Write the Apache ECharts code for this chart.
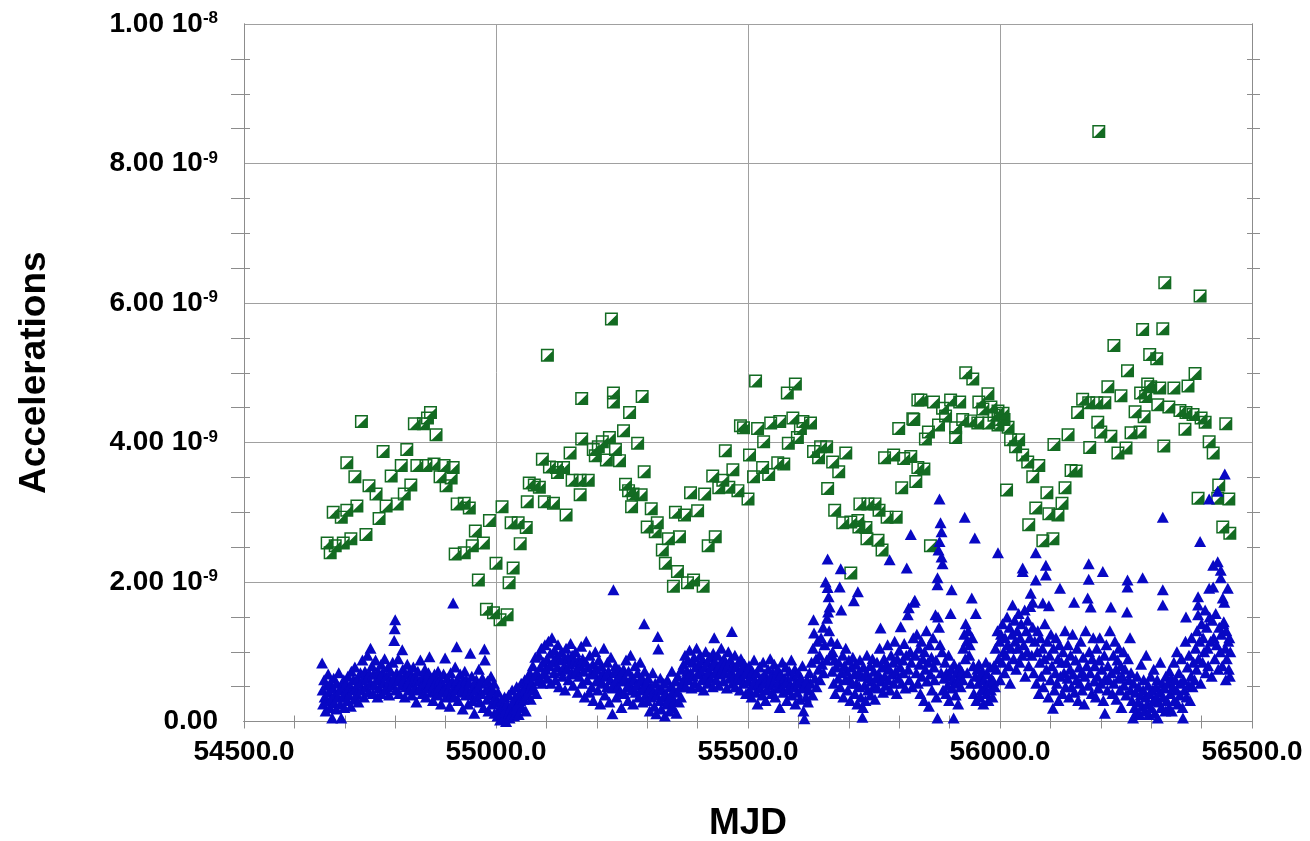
<!DOCTYPE html>
<html>
<head>
<meta charset="utf-8">
<title>Accelerations vs MJD</title>
<script src="https://cdn.jsdelivr.net/npm/echarts@6/dist/echarts.min.js"></script>
<style>
  html, body { margin: 0; padding: 0; background: #fff; }
  #chart { width: 1310px; height: 841px; }
</style>
</head>
<body>
<div id="chart"></div>
<script>
// Axis ranges and tick spacing
const xRange = [54500, 56500];
const xStep = 500;
const yRange = [0, 10];      // in units of 1e-9
const yStep = 2;
const axisTitles = { x: 'MJD', y: 'Accelerations' };

// Square-marker series: [MJD, acceleration in 1e-9]
const squarePts = [
[54665,2.56],[54671,2.42],[54677,3.00],[54681,2.52],[54693,2.93],[54697,2.56],[54704,3.03],[54704,3.71],[54712,2.62],[54720,3.51],
[54724,3.09],[54733,4.30],[54742,2.68],[54748,3.38],[54762,3.26],[54768,2.91],[54776,3.87],[54782,3.09],[54792,3.52],[54804,3.12],
[54812,3.67],[54818,3.26],[54823,3.90],[54831,3.39],[54838,4.27],[54843,3.67],[54856,4.27],[54861,3.67],[54864,4.35],[54870,4.43],
[54877,3.69],[54881,4.11],[54889,3.51],[54897,3.67],[54901,3.38],[54911,3.49],[54915,3.64],[54919,2.40],[54923,3.12],[54937,2.42],
[54937,3.13],[54947,3.06],[54953,2.52],[54959,2.73],[54965,2.03],[54975,2.56],[54981,1.61],[54987,2.88],[54995,1.56],[55000,2.27],
[55008,1.46],[55012,3.08],[55022,1.53],[55026,1.99],[55030,2.85],[55034,2.20],[55044,2.85],[55048,2.55],[55060,2.78],[55062,3.15],
[55066,3.42],[55076,3.39],[55086,3.36],[55092,3.76],[55096,3.15],[55102,5.25],[55106,3.65],[55114,3.13],[55120,3.64],[55122,3.57],
[55134,3.64],[55139,2.96],[55147,3.85],[55151,3.46],[55167,3.46],[55167,3.25],[55170,4.05],[55170,4.63],[55183,3.46],[55193,3.90],
[55197,3.81],[55203,3.94],[55211,4.01],[55219,3.75],[55225,4.07],[55229,5.77],[55233,4.71],[55233,4.58],[55237,3.90],[55245,3.74],
[55253,4.17],[55257,3.40],[55263,3.31],[55265,4.43],[55269,3.08],[55272,3.26],[55281,3.99],[55288,3.25],[55290,4.66],[55294,3.58],
[55300,2.79],[55308,3.05],[55316,2.72],[55320,2.85],[55330,2.46],[55336,2.27],[55342,2.62],[55352,1.94],[55356,3.00],[55360,2.15],
[55364,2.65],[55374,2.96],[55380,1.99],[55386,3.28],[55392,2.03],[55400,3.02],[55411,1.94],[55414,3.26],[55421,2.52],[55430,3.52],
[55435,2.65],[55442,3.35],[55450,3.46],[55455,3.88],[55462,3.36],[55470,3.61],[55480,3.31],[55485,4.24],[55491,4.21],[55500,3.19],
[55503,3.82],[55511,3.51],[55515,4.88],[55519,4.20],[55529,3.64],[55531,4.01],[55541,3.54],[55545,4.28],[55559,3.71],[55563,4.30],
[55571,3.69],[55578,4.71],[55580,3.99],[55589,4.35],[55594,4.84],[55598,4.07],[55604,4.20],[55609,4.30],[55624,4.28],[55630,3.87],
[55640,3.78],[55644,3.94],[55656,3.94],[55658,3.34],[55668,3.72],[55672,3.03],[55680,3.58],[55688,2.85],[55694,3.85],[55704,2.86],
[55704,2.13],[55718,2.88],[55720,2.79],[55722,3.12],[55734,2.78],[55736,2.62],[55738,3.12],[55752,3.12],[55758,2.60],[55760,3.03],
[55766,2.46],[55771,3.78],[55776,2.93],[55789,3.82],[55794,2.93],[55799,4.20],[55805,3.35],[55809,3.77],[55823,3.80],[55827,4.34],
[55829,4.33],[55833,3.44],[55837,4.61],[55837,3.64],[55843,4.61],[55849,3.62],[55852,4.05],[55858,4.15],[55862,2.52],[55868,4.58],
[55878,4.25],[55886,4.49],[55892,4.38],[55902,4.61],[55912,4.21],[55912,4.07],[55920,4.58],[55926,4.33],[55932,5.00],[55942,4.31],
[55946,4.91],[55956,4.28],[55958,4.58],[55966,4.48],[55976,4.70],[55978,4.28],[55982,4.51],[55988,4.39],[55996,4.45],[55996,4.25],
[56000,4.33],[56006,4.42],[56008,4.33],[56013,3.32],[56016,4.22],[56021,4.04],[56031,3.94],[56037,4.04],[56045,3.82],[56055,3.72],
[56057,2.82],[56065,3.51],[56071,3.06],[56077,3.67],[56085,2.59],[56093,3.28],[56097,2.98],[56105,2.62],[56107,3.97],[56115,2.96],
[56123,3.13],[56129,3.35],[56135,4.11],[56141,3.60],[56151,3.59],[56154,4.43],[56164,4.62],[56176,4.57],[56178,3.93],[56192,4.57],
[56194,4.29],[56196,8.46],[56200,4.15],[56208,4.57],[56214,4.80],[56220,4.09],[56226,5.39],[56234,3.85],[56240,4.67],[56250,3.92],
[56253,5.03],[56260,4.14],[56268,4.44],[56278,4.15],[56279,4.71],[56283,5.62],[56286,4.37],[56289,4.66],[56293,4.84],[56297,5.26],
[56299,4.80],[56311,5.20],[56313,4.54],[56317,4.78],[56323,5.63],[56325,3.95],[56327,6.29],[56335,4.51],[56345,4.78],[56357,4.46],
[56367,4.19],[56369,4.43],[56373,4.81],[56383,4.40],[56387,4.99],[56393,3.20],[56397,6.10],[56399,4.35],[56407,4.29],[56415,4.01],
[56423,3.85],[56432,3.20],[56434,3.39],[56442,2.79],[56448,4.27],[56454,3.19],[56456,2.70]
];

// Triangle-marker series: [MJD, acceleration in 1e-9]
const trianglePts = [
[54655,0.84],[54656,0.45],[54657,0.25],[54659,0.6],[54660,0.35],[54662,0.15],[54663,0.52],[54665,0.3],[54667,0.68],[54668,0.42],
[54670,0.2],[54671,0.55],[54673,0.33],[54675,0.05],[54676,0.48],[54678,0.62],[54679,0.27],[54681,0.4],[54683,0.18],[54684,0.55],
[54686,0.35],[54688,0.7],[54689,0.45],[54691,0.25],[54693,0.05],[54694,0.5],[54696,0.35],[54698,0.6],[54699,0.2],
[54701,0.42],[54703,0.55],[54705,0.3],[54706,0.65],[54708,0.38],[54710,0.5],[54712,0.22],[54713,0.72],[54715,0.45],[54717,0.6],
[54719,0.32],[54720,0.78],[54722,0.5],[54724,0.4],[54726,0.62],[54727,0.28],[54729,0.55],[54731,0.7],[54733,0.45],[54735,0.88],
[54736,0.6],[54738,0.35],[54740,0.72],[54742,0.5],[54744,0.62],[54745,0.95],[54747,0.42],[54749,0.68],
[54751,1.05],[54752,0.55],[54754,0.8],[54756,0.4],[54757,0.68],[54759,0.52],[54761,0.88],[54763,0.6],[54765,0.35],[54766,0.72],
[54768,0.48],[54770,0.62],[54772,0.82],[54773,0.4],[54775,0.7],[54777,0.55],[54779,0.9],[54780,0.45],[54782,0.65],[54784,0.5],
[54786,0.78],[54788,0.38],[54789,0.6],[54791,0.72],[54793,0.52],[54795,0.85],[54797,0.62],[54798,1.16],[54799,1.33],[54800,1.46],
[54801,0.45],[54803,0.7],[54805,0.58],[54806,0.9],[54808,0.4],[54810,0.65],[54812,0.52],[54814,1.03],[54815,0.75],[54817,0.6],
[54819,0.35],[54821,0.68],[54822,0.5],[54824,0.82],[54826,0.58],[54828,0.45],[54829,0.72],[54831,0.62],[54833,0.38],[54835,0.55],
[54836,0.78],[54838,0.48],[54840,0.65],[54842,0.28],[54843,0.6],[54845,0.72],[54847,0.45],[54849,0.58],[54850,0.88],[54852,0.52],
[54854,0.4],[54856,0.65],[54857,0.55],[54859,0.75],[54861,0.35],[54863,0.6],[54864,0.48],[54866,0.7],[54868,0.93],[54870,0.55],
[54871,0.42],[54873,0.62],[54875,0.3],[54877,0.52],[54878,0.68],[54880,0.45],[54882,0.58],[54884,0.38],[54885,0.72],[54887,0.5],
[54889,0.6],[54891,0.25],[54892,0.55],[54894,0.42],[54896,0.68],[54898,0.48],[54899,0.91],
[54901,0.35],[54903,0.62],[54905,0.45],[54906,0.55],[54908,0.22],[54910,0.7],[54912,0.4],[54913,0.58],[54915,1.7],[54916,0.35],
[54917,0.5],[54919,0.78],[54920,0.45],[54922,1.07],[54923,0.6],[54925,0.3],[54927,0.52],[54929,0.68],[54931,0.42],[54933,0.58],
[54934,0.18],[54936,0.5],[54938,0.72],[54940,0.38],[54941,0.6],[54943,0.45],[54945,0.25],[54947,0.55],[54949,0.98],[54950,0.4],
[54952,0.65],[54954,0.3],[54955,0.5],[54957,0.12],[54959,0.45],
[54961,0.6],[54962,0.35],[54964,0.5],[54966,0.75],[54968,0.28],[54969,0.55],[54971,0.4],[54973,0.62],[54975,0.2],[54977,1.04],
[54978,0.88],[54980,0.45],[54982,0.32],[54983,0.58],[54985,0.15],[54987,0.5],[54989,0.38],[54990,0.65],[54992,0.25],[54994,0.45],
[54996,0.55],[54997,0.12],[54999,0.35],
[55001,0.28],[55003,0.08],[55004,0.42],[55006,0.18],[55008,0.02],[55010,0.3],[55011,0.12],[55013,0.22],[55015,0.05],[55017,0.35],
[55018,0.15],[55020,0.0],[55022,0.25],[55024,0.1],[55025,0.38],[55027,0.05],[55029,0.2],[55031,0.12],[55032,0.45],[55034,0.28],
[55036,0.08],[55038,0.35],[55039,0.18],[55041,0.5],[55043,0.25],[55045,0.1],[55046,0.4],[55048,0.3],[55050,0.55],[55052,0.2],
[55053,0.45],[55055,0.32],[55057,0.6],[55059,0.15],[55060,0.5],[55062,0.38],[55064,0.62],
[55066,0.45],[55067,0.7],[55069,0.32],[55071,0.55],[55073,0.8],[55074,0.48],[55076,0.65],[55078,0.92],[55080,0.4],[55081,0.7],
[55083,0.58],[55085,0.95],[55087,0.62],[55088,0.78],[55090,1.05],[55092,0.55],[55094,0.85],[55095,0.68],[55097,1.1],[55099,0.75],
[55101,0.9],[55102,0.62],[55104,1.15],[55106,0.8],[55108,0.98],[55109,0.55],[55111,1.2],[55113,0.85],[55115,0.7],[55116,1.02],
[55118,0.6],[55120,0.92],[55122,0.78],[55123,1.1],[55125,0.5],[55127,0.88],[55129,0.72],[55130,1.0],[55132,0.65],[55134,0.9],
[55136,0.8],[55137,0.45],[55139,1.05],[55141,0.75],[55143,0.92],[55144,0.6],[55146,0.82],[55148,1.12],[55150,0.7],[55151,0.95],
[55153,0.52],[55155,0.85],[55157,0.68],[55158,1.0],[55160,0.75],[55162,0.42],[55164,0.88],[55165,0.65],[55167,0.8],[55169,1.08],
[55171,0.55],[55172,0.9],[55174,0.72],[55176,0.35],[55178,0.85],[55179,1.15],[55181,0.6],[55183,0.78],[55185,0.42],[55186,0.95],
[55188,0.68],[55190,0.5],[55192,0.82],[55193,0.3],[55195,0.7],[55197,1.0],[55199,0.58],[55200,0.75],[55202,0.45],[55204,0.88],
[55206,0.62],[55207,0.25],[55209,0.8],[55211,0.55],[55213,0.7],[55214,1.05],[55216,0.38],[55218,0.65],[55220,0.5],[55221,0.85],
[55223,0.72],[55225,0.28],[55227,0.6],[55228,0.92],[55230,0.48],[55231,0.11],[55233,1.89],[55234,0.7],[55235,0.55],[55237,0.8],
[55239,0.35],[55241,0.62],[55242,0.5],[55244,0.75],[55246,0.42],[55248,0.68],[55249,0.2],
[55251,0.58],[55253,0.75],[55255,0.4],[55256,0.62],[55258,0.88],[55260,0.5],[55262,0.3],[55263,0.72],[55265,0.55],[55267,0.95],
[55269,0.45],[55270,0.65],[55272,0.25],[55274,0.6],[55276,0.8],[55277,0.42],[55279,0.52],[55281,0.7],[55283,0.35],[55284,0.58],
[55286,0.85],[55288,0.45],[55290,0.62],[55291,0.28],[55293,0.5],[55294,1.4],[55295,0.72],[55297,0.38],[55299,0.55],
[55300,0.3],[55302,0.62],[55304,0.45],[55305,0.15],[55307,0.5],[55309,0.35],[55311,0.7],[55312,0.42],[55314,0.22],[55316,0.55],
[55318,0.11],[55319,0.38],[55321,1.22],[55322,1.04],[55323,0.48],[55325,0.3],[55326,0.62],[55328,0.18],[55330,0.45],[55332,0.35],
[55333,0.55],[55335,0.08],[55337,0.4],[55339,0.25],[55340,0.6],[55342,0.32],[55344,0.15],[55346,0.5],[55347,0.38],[55349,0.72],
[55351,0.2],[55353,0.45],[55354,0.3],[55356,0.58],[55358,0.12],[55360,0.42],[55361,0.65],[55363,0.28],[55365,0.5],[55367,0.35],
[55368,0.75],
[55370,0.55],[55372,0.82],[55374,0.62],[55375,0.95],[55377,0.5],[55379,0.72],[55381,0.88],[55382,0.6],[55384,1.02],[55386,0.7],
[55388,0.48],[55389,0.85],[55391,0.65],[55393,0.92],[55395,0.55],[55396,0.78],[55398,1.05],[55400,0.68],[55402,0.82],[55403,0.5],
[55405,0.95],[55407,0.72],[55409,0.6],[55410,0.88],[55412,0.45],[55414,0.78],[55416,1.0],[55417,0.65],[55419,0.85],[55421,0.55],
[55423,0.72],[55424,0.92],[55426,0.62],[55428,0.8],[55430,0.5],[55431,0.98],[55433,1.2],[55434,0.7],[55435,0.85],[55437,0.6],
[55439,0.75],[55440,0.95],[55442,0.52],[55444,0.82],[55445,0.68],[55447,1.05],[55449,0.75],[55451,0.58],[55452,0.9],[55454,0.7],
[55456,0.85],[55458,0.48],[55459,0.78],[55461,1.0],[55463,0.62],[55465,0.88],[55466,0.72],[55468,1.29],[55469,0.55],[55470,0.8],
[55472,0.65],[55474,0.95],[55475,0.5],[55477,0.78],[55479,0.6],[55481,0.85],[55482,0.7],[55484,0.45],[55486,0.9],[55487,0.62],
[55489,0.75],[55491,0.55],[55493,0.82],[55494,0.68],[55496,0.4],[55498,0.72],
[55500,0.58],[55502,0.8],[55503,0.45],[55505,0.65],[55507,0.35],[55509,0.72],[55510,0.52],[55512,0.88],[55514,0.6],[55516,0.42],
[55517,0.7],[55519,0.25],[55521,0.55],[55523,0.78],[55524,0.48],[55526,0.62],[55528,0.38],[55530,0.85],[55531,0.55],[55533,0.68],
[55535,0.3],[55537,0.6],[55538,0.45],[55540,0.75],[55542,0.52],[55544,0.9],[55545,0.62],[55547,0.4],[55549,0.7],[55551,0.55],
[55552,0.82],[55554,0.35],[55556,0.65],[55558,0.48],[55559,0.75],[55561,0.58],[55563,0.2],[55565,0.68],[55566,0.5],[55568,0.85],
[55570,0.42],[55572,0.62],[55573,0.55],[55575,0.78],[55577,0.3],[55579,0.6],[55580,0.45],[55582,0.72],[55584,0.52],[55586,0.88],
[55587,0.38],[55589,0.65],[55591,0.5],[55593,0.75],[55594,0.25],[55596,0.58],[55598,0.42],[55600,0.7],[55601,0.55],[55603,0.32],
[55605,0.62],[55607,0.48],[55608,0.8],[55610,0.15],[55612,0.04],[55613,0.52],[55615,0.35],[55617,0.6],[55619,0.28],
[55621,0.45],[55622,0.7],[55624,0.55],[55626,0.85],[55628,0.38],[55629,1.05],[55630,1.46],[55631,1.27],[55633,0.62],[55635,0.9],
[55636,0.5],[55638,1.15],[55640,0.75],[55642,0.95],[55643,0.6],[55645,1.2],[55647,0.82],[55649,1.35],[55650,0.7],[55652,1.1],
[55654,2.0],[55656,0.88],[55657,1.48],[55658,2.33],[55658,1.92],[55659,1.57],[55660,1.79],[55662,1.64],[55661,1.3],[55663,0.95],
[55665,1.15],
[55667,0.72],[55668,1.0],[55670,0.55],[55672,0.88],[55673,0.4],[55675,0.78],[55677,1.12],[55679,0.62],[55680,0.85],[55682,1.93],
[55683,0.5],[55684,2.19],[55685,1.6],[55686,0.7],[55688,0.95],[55689,0.35],[55691,0.8],[55693,0.6],[55694,1.05],[55696,0.72],
[55698,0.45],[55700,0.88],[55701,0.62],[55703,0.3],[55705,0.78],[55707,0.55],[55708,0.92],[55710,1.73],[55711,0.68],[55712,0.4],
[55714,0.82],[55715,0.55],[55717,0.25],[55718,1.86],[55719,0.7],[55721,0.5],[55722,0.88],[55724,0.35],[55726,0.65],[55727,0.06],
[55728,0.2],[55729,0.78],[55731,0.52],[55733,0.3],[55735,0.7],[55736,0.95],[55738,0.45],[55740,0.62],[55742,0.8],[55743,0.38],
[55745,0.58],[55747,0.9],[55749,0.5],[55750,0.72],[55752,0.32],[55754,0.62],[55756,0.85],[55757,0.48],[55759,0.68],[55761,1.05],
[55763,1.34],[55764,0.58],[55766,0.78],[55768,0.42],[55770,0.9],[55771,0.65],[55773,0.52],[55775,0.82],[55777,1.1],[55778,0.6],
[55780,0.75],[55781,2.32],[55782,0.45],[55784,0.95],[55786,0.68],[55788,0.85],[55789,0.55],[55791,1.15],[55793,0.72],[55795,0.4],
[55796,0.9],[55798,0.62],[55800,1.02],[55802,0.78],[55803,1.36],[55805,0.55],[55807,0.88],[55808,0.7],[55810,1.12],[55812,0.48],
[55814,0.95],[55815,2.2],[55817,1.53],[55818,0.75],[55819,1.63],[55820,0.6],[55822,1.0],[55823,2.68],[55824,0.85],[55826,0.5],
[55828,1.2],[55829,1.71],
[55831,1.74],[55832,0.95],[55834,0.7],[55835,1.25],[55837,0.55],[55839,1.05],[55840,0.82],[55842,0.4],[55844,1.15],[55845,0.65],
[55847,0.9],[55849,0.3],[55850,1.0],[55852,0.75],[55854,1.3],[55855,0.58],[55857,0.85],[55859,0.22],[55860,1.1],[55862,0.68],
[55864,0.92],[55865,0.45],[55867,1.2],[55869,0.78],[55870,0.6],[55872,1.53],[55873,0.88],[55874,0.35],[55876,2.06],[55876,1.96],
[55876,0.05],[55878,2.46],[55880,2.58],[55880,3.19],[55882,2.85],[55884,2.72],[55884,2.36],[55886,2.26],[55877,1.5],[55879,1.35],
[55881,1.1],[55883,0.7],[55885,1.0],[55887,0.45],
[55889,0.62],[55891,0.85],[55893,0.4],[55894,0.7],[55896,0.52],[55898,0.95],[55899,0.3],[55901,0.65],[55902,1.55],[55903,0.75],
[55904,1.89],[55905,0.48],[55907,0.6],[55908,0.05],[55909,0.82],[55911,0.55],[55912,0.38],[55914,0.7],[55916,0.6],[55917,0.25],
[55919,0.78],[55921,0.62],[55922,0.5],[55924,0.72],[55926,0.6],[55927,1.05],[55929,1.25],[55930,2.93],[55931,0.9],[55932,1.4],
[55934,1.15],[55935,0.7],[55937,1.3],[55939,0.95],[55940,1.1],[55942,0.55],[55944,1.77],[55945,1.2],[55947,0.8],[55948,0.4],
[55950,2.63],[55951,0.65],[55952,1.55],[55953,0.3],[55955,0.75],
[55957,0.55],[55958,0.82],[55960,0.35],[55962,0.65],[55963,0.45],[55965,0.72],[55967,0.25],[55968,0.6],[55970,0.5],[55972,0.85],
[55973,0.4],[55975,0.68],[55977,0.3],[55978,0.55],[55980,0.78],[55982,0.45],[55983,0.62],[55985,0.35],[55987,0.58],[55988,0.8],
[55990,0.5],
[55991,1.05],[55993,0.75],[55995,1.3],[55996,2.42],[55997,0.9],[55999,1.15],[56000,0.6],[56002,1.25],[56004,0.85],[56005,1.4],
[56007,1.0],[56009,0.7],[56010,1.2],[56012,0.95],[56014,1.5],[56015,1.1],[56017,0.8],[56019,1.35],[56020,0.55],[56022,1.05],
[56024,1.25],[56025,1.67],[56027,0.9],[56029,1.45],[56030,1.15],[56032,0.75],[56034,1.3],[56035,1.05],[56037,1.55],[56039,0.85],
[56040,1.2],[56042,1.4],[56044,0.95],[56045,2.2],[56045,2.15],[56047,1.1],[56049,1.6],[56050,0.65],[56052,1.3],[56054,1.0],
[56055,1.45],[56057,0.8],[56059,1.2],[56060,1.65],[56061,1.84],[56063,0.95],[56065,1.71],[56065,1.35],
[56067,0.7],[56069,1.15],[56071,2.42],[56071,2.03],[56072,0.55],[56074,1.0],[56075,1.3],[56077,0.4],[56079,0.85],[56080,1.2],
[56082,0.65],[56084,1.05],[56085,1.7],[56086,0.5],[56088,0.9],[56089,1.4],[56091,2.24],[56091,2.1],[56092,0.75],[56094,1.15],
[56096,0.35],[56097,1.66],[56098,0.95],[56100,0.6],[56101,1.25],[56103,0.8],[56105,0.19],[56106,1.05],[56108,0.45],[56110,0.7],
[56111,1.2],[56113,0.55],[56115,0.9],[56116,0.3],[56118,1.1],[56119,1.91],[56120,0.65],[56122,0.85],[56124,0.4],[56125,1.0],
[56127,0.7],[56129,1.3],
[56130,0.5],[56132,0.85],[56134,0.62],[56135,1.1],[56137,0.35],[56139,0.75],[56140,0.95],[56142,0.5],[56144,1.25],[56145,0.68],
[56147,1.71],[56148,0.42],[56150,0.88],[56152,0.6],[56153,1.05],[56155,0.3],[56157,0.78],[56158,0.55],[56160,1.15],[56162,0.7],
[56163,0.45],[56165,0.92],[56167,0.25],[56168,0.65],[56170,1.3],[56172,0.8],[56174,1.77],[56175,0.52],[56176,2.26],[56176,2.04],
[56177,1.0],[56179,0.7],[56180,1.64],[56182,0.4],[56183,0.9],[56185,1.2],[56187,0.58],[56188,0.8],[56190,0.35],[56192,1.05],
[56193,0.65],[56195,0.48],[56197,0.88],[56198,1.2],[56200,0.55],[56202,0.75],[56204,2.15],[56205,0.3],[56207,0.95],[56208,0.12],
[56209,0.62],[56211,1.1],[56213,0.45],[56214,0.8],[56216,0.6],[56218,1.3],[56220,1.64],[56221,0.7],[56223,0.4],[56225,0.95],
[56226,0.55],[56228,1.15],[56230,0.75],[56231,0.32],[56233,0.88],[56235,0.62],[56236,1.05],[56238,0.45],[56240,0.8],[56241,0.2],
[56243,0.65],[56245,1.0],[56246,0.52],[56248,0.75],[56250,0.38],[56252,1.57],[56253,2.03],[56253,1.93],[56254,0.9],[56256,0.6],
[56258,1.2],[56259,0.45],
[56260,0.7],[56262,0.3],[56264,0.05],[56265,0.55],[56267,0.2],[56269,0.42],[56270,0.12],[56272,0.65],[56274,0.28],[56275,0.5],
[56277,0.1],[56279,0.38],[56280,0.82],[56282,0.22],[56283,2.06],[56284,0.45],[56285,0.6],[56287,0.15],[56289,0.35],[56290,0.95],
[56292,0.25],[56294,0.52],[56295,0.1],[56297,0.4],[56299,0.65],[56300,0.2],[56302,0.45],[56304,0.3],[56305,0.75],[56307,0.12],
[56309,0.5],[56310,0.35],[56312,0.6],[56313,0.05],[56315,0.28],[56317,0.42],[56318,0.85],[56320,0.2],[56322,0.55],[56323,2.93],
[56323,1.89],[56323,1.67],[56324,0.35],[56326,0.48],[56328,0.15],[56329,0.65],
[56331,0.3],[56333,0.55],[56335,0.2],[56336,0.72],[56338,0.4],[56340,0.62],[56341,0.15],[56343,0.5],[56345,0.85],[56346,0.3],
[56348,0.6],[56350,0.45],[56351,1.0],[56353,0.25],[56355,0.7],[56357,0.38],[56358,0.55],[56360,0.9],[56362,0.2],[56363,0.05],
[56364,0.6],[56366,0.45],[56368,1.15],[56369,1.5],[56370,0.35],[56372,0.78],[56374,0.52],[56375,0.95],[56377,0.3],[56379,0.65],
[56380,1.2],[56382,0.5],[56384,0.85],
[56386,0.6],[56388,1.05],[56390,0.75],[56391,1.3],[56393,1.79],[56393,1.67],[56393,1.53],[56394,0.9],[56396,1.15],[56397,2.58],
[56398,0.55],[56400,1.4],[56402,0.85],[56403,1.2],[56405,1.0],[56407,1.6],[56408,0.7],[56410,1.35],[56412,1.05],[56413,0.8],
[56415,1.91],[56415,3.19],[56416,1.5],[56418,1.15],[56420,0.65],[56421,1.45],[56423,2.24],[56423,1.93],[56424,1.2],[56426,0.9],
[56428,1.55],[56430,1.1],[56432,2.29],[56432,3.3],[56433,0.75],[56435,1.35],[56437,1.0],[56438,2.17],[56438,2.06],[56439,1.25],
[56441,0.8],[56442,1.77],[56443,1.4],[56444,1.43],[56445,1.71],[56446,3.55],[56447,1.05],[56448,0.6],[56449,1.3],[56450,0.9],
[56452,1.91],[56453,1.15],[56454,0.75],[56455,1.2],[56456,0.65],[56457,1.0]
];

const FONT = '"Liberation Sans", Arial, Helvetica, sans-serif';
const LINE = '#8c8c8c';
const GREEN = '#136b22';
const BLUE = '#0808c4';

// Square outline with a hollow interior and a filled lower-right half
const halfSquare = 'path://M0,0L14,0L14,14L0,14Z M1.6,1.6L1.6,12.4L12.4,12.4L12.4,1.6Z M12.4,2.6L12.4,12.4L2.6,12.4Z';

function yLabel(v) {
  if (v === 0) return '{m|0.00}';
  if (v >= 10) return '{m|' + (v / 10).toFixed(2) + ' 10}{s|-8}';
  return '{m|' + v.toFixed(2) + ' 10}{s|-9}';
}

const xBase = { type: 'value', min: xRange[0], max: xRange[1], interval: xStep, scale: false };
const yBase = { type: 'value', min: yRange[0], max: yRange[1], interval: yStep };

// Secondary axes draw the tick marks that cross the frame
function tickAxis(base, position, inside, len) {
  return Object.assign({}, base, {
    position: position,
    axisLine: { show: true, lineStyle: { color: LINE, width: 1 } },
    axisTick: { show: false, inside: inside },
    minorTick: { show: true, splitNumber: base === xBase ? 5 : 4, length: len, lineStyle: { color: LINE, width: 1 } },
    axisLabel: { show: false },
    splitLine: { show: false }
  });
}

const chart = echarts.init(document.getElementById('chart'), null, { renderer: 'canvas' });

chart.setOption({
  animation: false,
  backgroundColor: '#fff',
  grid: { left: 244, right: 58, top: 24, bottom: 119.5, containLabel: false, outerBoundsMode: 'none' },
  xAxis: [
    Object.assign({}, xBase, {
      position: 'bottom',
      name: axisTitles.x,
      nameLocation: 'middle',
      nameGap: 84,
      nameTextStyle: { fontFamily: FONT, fontWeight: 'bold', fontSize: 37, color: '#000' },
      axisLine: { show: true, lineStyle: { color: LINE, width: 1 } },
      axisTick: { show: true, inside: false, length: 7, lineStyle: { color: LINE } },
      minorTick: { show: true, splitNumber: 5, length: 6, lineStyle: { color: LINE, width: 1 } },
      axisLabel: {
        show: true, margin: 17,
        fontFamily: FONT, fontWeight: 'bold', fontSize: 28, color: '#000',
        formatter: v => v.toFixed(1)
      },
      splitLine: { show: true, lineStyle: { color: '#a0a0a0', width: 1 } }
    }),
    tickAxis(xBase, 'bottom', true, 5),
    tickAxis(xBase, 'top', false, 6),
    tickAxis(xBase, 'top', true, 7)
  ],
  yAxis: [
    Object.assign({}, yBase, {
      position: 'left',
      name: axisTitles.y,
      nameLocation: 'middle',
      nameGap: 191,
      nameRotate: 90,
      nameTextStyle: { fontFamily: FONT, fontWeight: 'bold', fontSize: 37, color: '#000' },
      axisLine: { show: true, lineStyle: { color: LINE, width: 1 } },
      axisTick: { show: false, inside: false },
      minorTick: { show: true, splitNumber: 4, length: 13, lineStyle: { color: LINE, width: 1 } },
      axisLabel: {
        show: true, margin: 26,
        formatter: yLabel,
        rich: {
          m: { fontFamily: FONT, fontWeight: 'bold', fontSize: 28, color: '#000', lineHeight: 28, verticalAlign: 'bottom' },
          s: { fontFamily: FONT, fontWeight: 'bold', fontSize: 17, color: '#000', lineHeight: 17, verticalAlign: 'top' }
        }
      },
      splitLine: { show: true, lineStyle: { color: '#a0a0a0', width: 1 } }
    }),
    tickAxis(yBase, 'left', true, 6),
    tickAxis(yBase, 'right', false, 8),
    tickAxis(yBase, 'right', true, 5)
  ],
  series: [
    {
      type: 'scatter',
      name: 'squares',
      data: squarePts,
      symbol: halfSquare,
      symbolSize: 13,
      itemStyle: { color: GREEN, opacity: 1 },
      z: 3
    },
    {
      type: 'scatter',
      name: 'triangles',
      data: trianglePts,
      symbol: 'triangle',
      symbolSize: [12, 11],
      itemStyle: { color: BLUE, opacity: 1 },
      z: 4
    }
  ]
});
</script>
</body>
</html>
